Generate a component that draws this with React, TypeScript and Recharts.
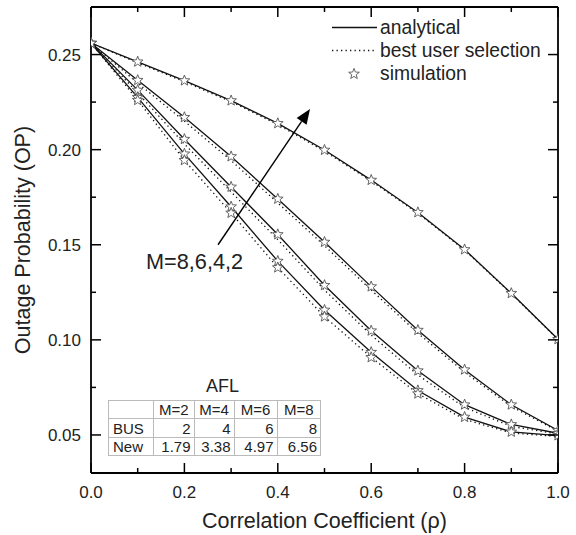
import React from 'react';
import { ComposedChart, Line, XAxis, YAxis, ReferenceLine } from 'recharts';

const rho = [0, 0.1, 0.2, 0.3, 0.4, 0.5, 0.6, 0.7, 0.8, 0.9, 1.0];

// analytical (solid)
const analyticalM2 = [0.256, 0.2462, 0.2363, 0.2258, 0.2138, 0.1998, 0.1840, 0.1670, 0.1475, 0.1245, 0.1003];
const analyticalM4 = [0.256, 0.2365, 0.2170, 0.1964, 0.1741, 0.1514, 0.1280, 0.1051, 0.0843, 0.0659, 0.0524];
const analyticalM6 = [0.256, 0.2313, 0.2055, 0.1804, 0.1554, 0.1287, 0.1048, 0.0838, 0.0659, 0.0555, 0.0509];
const analyticalM8 = [0.256, 0.2275, 0.1978, 0.1700, 0.1414, 0.1157, 0.0935, 0.0734, 0.0594, 0.0516, 0.0497];

// best user selection (dotted)
const busM2 = [0.256, 0.2457, 0.2357, 0.2252, 0.2132, 0.1992, 0.1835, 0.1666, 0.1472, 0.1243, 0.1002];
const busM4 = [0.256, 0.2350, 0.2150, 0.1943, 0.1720, 0.1495, 0.1262, 0.1035, 0.0830, 0.0650, 0.0520];
const busM6 = [0.256, 0.2298, 0.2030, 0.1778, 0.1527, 0.1262, 0.1025, 0.0815, 0.0645, 0.0545, 0.0505];
const busM8 = [0.256, 0.2260, 0.1944, 0.1667, 0.1380, 0.1122, 0.0908, 0.0717, 0.0582, 0.0510, 0.0492];

// simulation (stars)
const simM2 = analyticalM2;
const simM4 = analyticalM4;
const simM6 = analyticalM6;
const simM8 = analyticalM8;
const simBusM8 = [null, 0.2260, 0.1944, 0.1667, 0.1380, 0.1122, 0.0908, 0.0717, null, null, null];

const xMajor = [0, 0.2, 0.4, 0.6, 0.8, 1.0];
const xMinor = [0.1, 0.3, 0.5, 0.7, 0.9];
const yMajor = [0.05, 0.1, 0.15, 0.2, 0.25];
const yMinor = [0.075, 0.125, 0.175, 0.225];

const tableCols = ['M=2', 'M=4', 'M=6', 'M=8'];
const tableRowLabels = ['BUS', 'New'];
const aflBus = ['2', '4', '6', '8'];
const aflNew = ['1.79', '3.38', '4.97', '6.56'];

const arrowFrom = { x: 0.272, y: 0.150 };
const arrowTo = { x: 0.469, y: 0.2214 };

const FONT = '"Liberation Sans", Arial, sans-serif';

const data = rho.map((x, i) => ({
  x,
  a2: analyticalM2[i], a4: analyticalM4[i], a6: analyticalM6[i], a8: analyticalM8[i],
  b2: busM2[i], b4: busM4[i], b6: busM6[i], b8: busM8[i],
  s2: simM2[i], s4: simM4[i], s6: simM6[i], s8: simM8[i], sb8: simBusM8[i],
}));

const xTicks = [...xMajor, ...xMinor].sort((a, b) => a - b);
const yTicks = [...yMajor, ...yMinor].sort((a, b) => a - b);
const isMajor = (v: number, arr: number[]) => arr.some((m) => Math.abs(m - v) < 1e-6);

const starPoints = (cx: number, cy: number, R = 5.6, r = 2.4) => {
  const pts: string[] = [];
  for (let k = 0; k < 10; k++) {
    const ang = -Math.PI / 2 + (k * Math.PI) / 5;
    const rad = k % 2 === 0 ? R : r;
    pts.push(`${(cx + rad * Math.cos(ang)).toFixed(2)},${(cy + rad * Math.sin(ang)).toFixed(2)}`);
  }
  return pts.join(' ');
};

const makeStar = (id: string) => (props: any) => {
  const { cx, cy, value, index } = props;
  if (value == null || cx == null || cy == null || isNaN(cy)) return <g key={`${id}-${index}`} />;
  return (
    <polygon key={`${id}-${index}`} points={starPoints(cx, cy)} fill="#fff" stroke="#555" strokeWidth={0.9} />
  );
};

const XTick = (props: any) => {
  const { x, y, payload, top } = props;
  const major = isMajor(payload.value, xMajor);
  const len = major ? 10 : 5;
  return (
    <g>
      <line x1={x} x2={x} y1={y} y2={top ? y + len : y - len} stroke="#000" strokeWidth={1.5} />
      {major && !top && (
        <text x={x} y={y + 25} textAnchor="middle" fontSize={17} fontFamily={FONT} fill="#222">
          {payload.value.toFixed(1)}
        </text>
      )}
    </g>
  );
};

const YTick = (props: any) => {
  const { x, y, payload, right } = props;
  const major = isMajor(payload.value, yMajor);
  const len = major ? 10 : 5;
  return (
    <g>
      <line x1={x} x2={right ? x - len : x + len} y1={y} y2={y} stroke="#000" strokeWidth={1.5} />
      {major && !right && (
        <text x={x - 10} y={y + 6} textAnchor="end" fontSize={17} fontFamily={FONT} fill="#222">
          {payload.value.toFixed(2)}
        </text>
      )}
    </g>
  );
};

const ArrowShape = (props: any) => {
  const { x1, y1, x2, y2 } = props;
  if (x1 == null) return <g />;
  const dx = x2 - x1, dy = y2 - y1;
  const L = Math.sqrt(dx * dx + dy * dy);
  const ux = dx / L, uy = dy / L;
  const hl = 15, hw = 6;
  const bx = x2 - ux * hl, by = y2 - uy * hl;
  const p1 = `${x2},${y2}`;
  const p2 = `${bx - uy * hw},${by + ux * hw}`;
  const p3 = `${bx + uy * hw},${by - ux * hw}`;
  return (
    <g>
      <line x1={x1} y1={y1} x2={bx} y2={by} stroke="#000" strokeWidth={1.4} />
      <polygon points={`${p1} ${p2} ${p3}`} fill="#000" />
    </g>
  );
};

const YLabel = (props: any) => {
  const { viewBox } = props;
  const cy = viewBox.y + viewBox.height / 2;
  return (
    <text x={23} y={cy} transform={`rotate(-90, 23, ${cy})`} textAnchor="middle" dominantBaseline="central"
      fontSize={21.5} fontFamily={FONT} fill="#222">
      Outage Probability (OP)
    </text>
  );
};

const XLabel = (props: any) => {
  const { viewBox } = props;
  const cx = viewBox.x + viewBox.width / 2;
  return (
    <text x={cx} y={528} textAnchor="middle" fontSize={21.5} fontFamily={FONT} fill="#222">
      Correlation Coefficient (ρ)
    </text>
  );
};

const colW = [45, 40.5, 40, 43, 43.5];
const rowH = 18.4;
const cellBase: React.CSSProperties = {
  border: '1px solid #bbb', padding: 0, boxSizing: 'border-box', lineHeight: '17px', height: rowH, overflow: 'hidden', whiteSpace: 'nowrap',
};

export default function App() {
  const axisLine = { stroke: '#000', strokeWidth: 1.8 };
  return (
    <div style={{ position: 'absolute', left: 0, top: 0, width: 576, height: 535, background: '#fff', fontFamily: FONT }}>
      <ComposedChart width={576} height={535} data={data} margin={{ top: 6, right: 17, bottom: 0, left: 0 }}>
        <XAxis dataKey="x" type="number" domain={[0, 1]} ticks={xTicks} interval={0} tick={<XTick />}
          tickLine={false} tickSize={0} tickMargin={0} axisLine={axisLine} height={62} allowDataOverflow
          label={<XLabel />} />
        <XAxis xAxisId="top" orientation="top" dataKey="x" type="number" domain={[0, 1]} ticks={xTicks} interval={0}
          tick={<XTick top />} tickLine={false} tickSize={0} tickMargin={0} axisLine={axisLine} height={1} allowDataOverflow />
        <YAxis type="number" domain={[0.03, 0.275]} ticks={yTicks} interval={0} tick={<YTick />} tickLine={false}
          tickSize={0} tickMargin={0} axisLine={axisLine} width={91} allowDataOverflow label={<YLabel />} />
        <YAxis yAxisId="right" orientation="right" type="number" domain={[0.03, 0.275]} ticks={yTicks} interval={0}
          tick={<YTick right />} tickLine={false} tickSize={0} tickMargin={0} axisLine={axisLine} width={1} allowDataOverflow />

        {/* invisible series binding the mirrored frame axes */}
        <Line xAxisId="top" yAxisId="right" dataKey="a2" stroke="none" dot={false} activeDot={false}
          legendType="none" isAnimationActive={false} />

        {['b2', 'b4', 'b6', 'b8'].map((k) => (
          <Line key={k} dataKey={k} type="linear" stroke="#111" strokeWidth={1.3} strokeDasharray="1.3 3.2"
            dot={false} activeDot={false} isAnimationActive={false} />
        ))}
        {['a2', 'a4', 'a6', 'a8'].map((k) => (
          <Line key={k} dataKey={k} type="linear" stroke="#111" strokeWidth={1.3}
            dot={false} activeDot={false} isAnimationActive={false} />
        ))}
        {['s2', 's4', 's6', 's8', 'sb8'].map((k) => (
          <Line key={k} dataKey={k} type="linear" stroke="none" connectNulls={false}
            dot={makeStar(k)} activeDot={false} isAnimationActive={false} />
        ))}

        <ReferenceLine segment={[arrowFrom, arrowTo]} shape={ArrowShape} ifOverflow="visible" />
      </ComposedChart>

      {/* legend */}
      <svg style={{ position: 'absolute', left: 0, top: 0 }} width={576} height={100}>
        <line x1={332} x2={377} y1={27.5} y2={27.5} stroke="#111" strokeWidth={1.3} />
        <line x1={332} x2={377} y1={50.5} y2={50.5} stroke="#111" strokeWidth={1.3} strokeDasharray="1.3 3.2" />
        <polygon points={starPoints(354, 74)} fill="#fff" stroke="#555" strokeWidth={0.9} />
        <text x={380} y={34} fontSize={19.3} fontFamily={FONT} fill="#222">analytical</text>
        <text x={380} y={57} fontSize={19.3} fontFamily={FONT} fill="#222">best user selection</text>
        <text x={380} y={80} fontSize={19.3} fontFamily={FONT} fill="#222">simulation</text>
      </svg>

      {/* arrow label */}
      <div style={{ position: 'absolute', left: 146, top: 249, fontSize: 21.7, lineHeight: '26px', color: '#222', whiteSpace: 'nowrap' }}>
        M=8,6,4,2
      </div>

      {/* AFL table */}
      <div style={{ position: 'absolute', left: 206, top: 375, fontSize: 18, lineHeight: '22px', color: '#222' }}>AFL</div>
      <table style={{ position: 'absolute', left: 108, top: 400, borderCollapse: 'collapse', tableLayout: 'fixed',
        width: colW.reduce((a, b) => a + b, 0), fontSize: 15, color: '#222', fontFamily: FONT }}>
        <colgroup>
          {colW.map((w, i) => <col key={i} style={{ width: w }} />)}
        </colgroup>
        <tbody>
          <tr>
            <td style={cellBase} />
            {tableCols.map((c) => (
              <td key={c} style={{ ...cellBase, textAlign: 'center' }}>{c}</td>
            ))}
          </tr>
          {[aflBus, aflNew].map((row, r) => (
            <tr key={r}>
              <td style={{ ...cellBase, paddingLeft: 4 }}>{tableRowLabels[r]}</td>
              {row.map((v, i) => (
                <td key={i} style={{ ...cellBase, paddingRight: 3, textAlign: 'right' }}>{v}</td>
              ))}
            </tr>
          ))}
        </tbody>
      </table>
    </div>
  );
}
